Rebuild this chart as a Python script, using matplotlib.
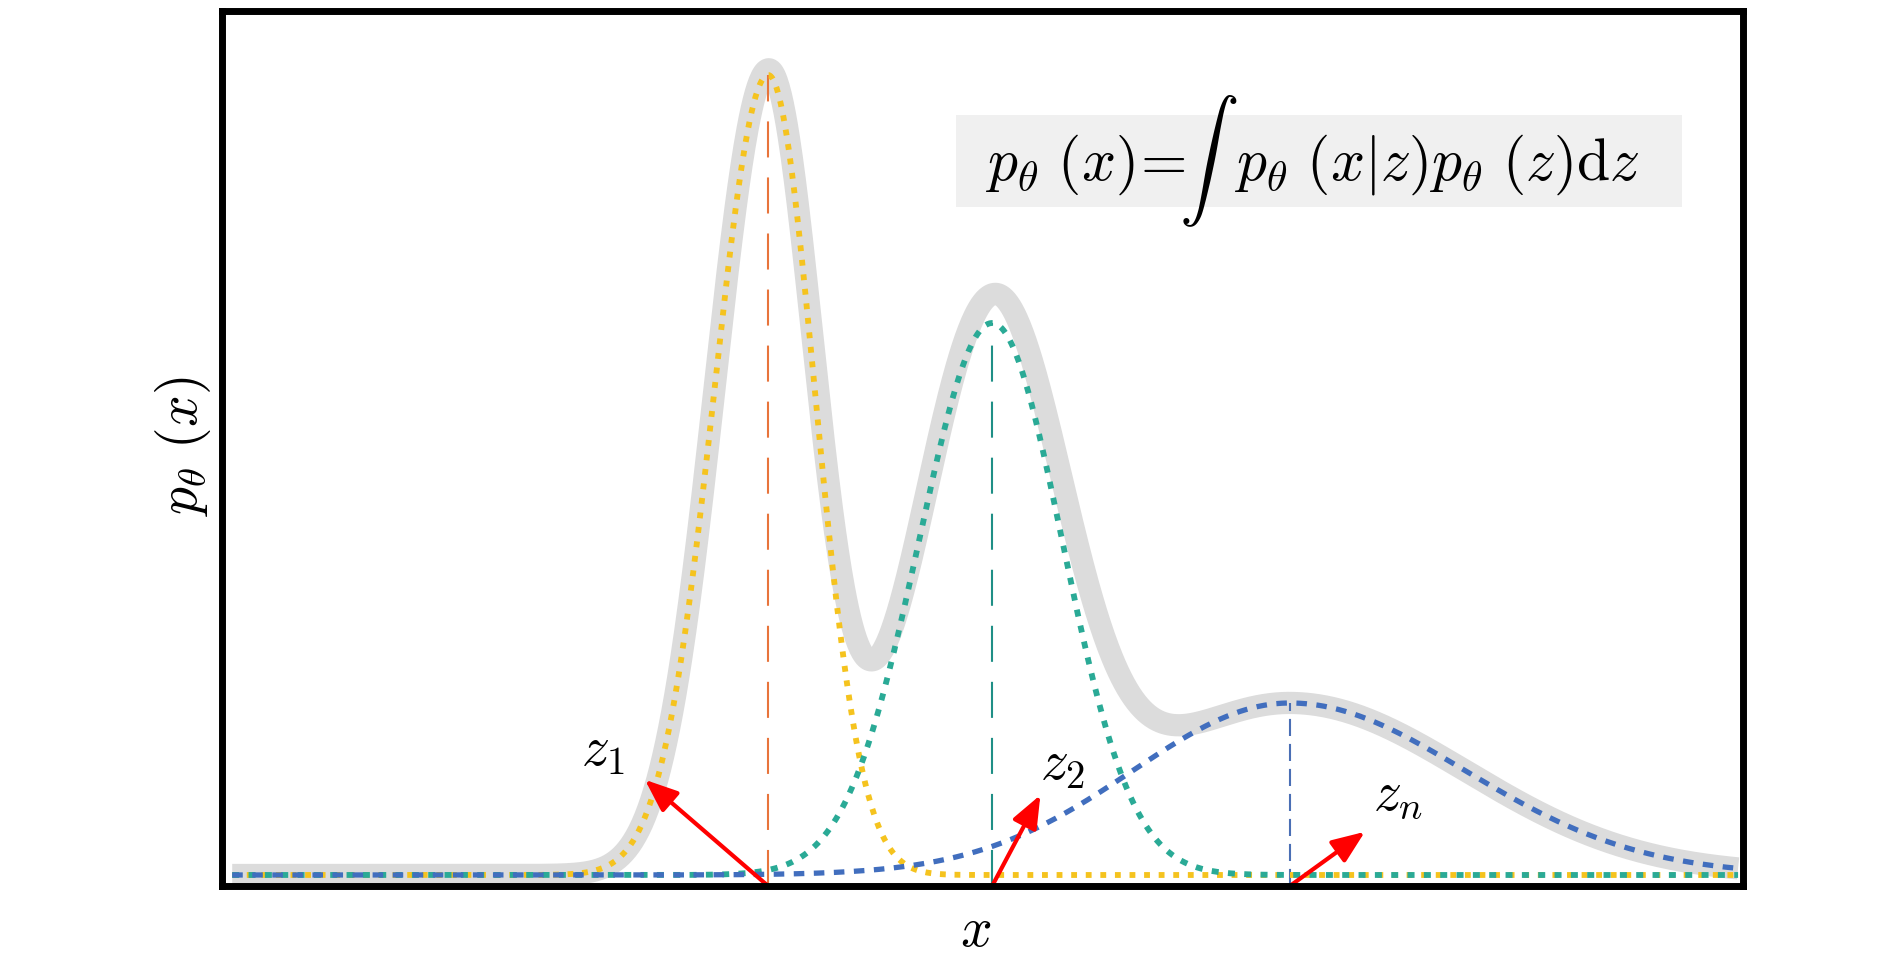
import numpy as np
import matplotlib.pyplot as plt
from matplotlib.patches import Rectangle

plt.rcParams['font.family'] = ['DejaVu Sans']
plt.rcParams['mathtext.fontset'] = 'cm'

# Mixture components
# (x in axis units 0..15, height relative to the tallest component)
comp_names = [r'$z_1$', r'$z_2$', r'$z_n$']
comp_mu = [5.385, 7.594, 10.53]
comp_amp = [1.0, 0.69, 0.215]
comp_sig_left = [0.53, 0.72, 1.55]
comp_sig_right = [0.46, 0.69, 1.73]

curve_colors = ['#f5c31e', '#2aaa96', '#416ebe']
guide_colors = ['#e8743b', '#1f8f86', '#4a6fb5']

# red arrow tips and z labels
arrow_tip_x = [4.17, 8.07, 11.27]
arrow_tip_y = [0.119, 0.10, 0.054]
label_x = [3.76, 8.29, 11.6]
label_y = [0.156, 0.1375, 0.10]

formula = r'$p_\theta\ (x)\!=\!\!\int\;\,p_\theta\ (x|z)p_\theta\ (z)\mathrm{d}z$'


def component(x, mu, amp, sl, sr):
    s = np.where(x < mu, sl, sr)
    return amp * np.exp(-0.5 * ((x - mu) / s) ** 2)


def main():
    fig = plt.figure(figsize=(18.9, 9.57), dpi=100)
    ax = fig.add_axes([0.1175, 0.0742, 0.8048, 0.9143])
    ymin, ymax = -0.01375, 1.08
    ax.set_xlim(0, 15)
    ax.set_ylim(ymin, ymax)

    x = np.linspace(0.1, 14.95, 1500)
    comps = [component(x, m, a, sl, sr) for m, a, sl, sr in
             zip(comp_mu, comp_amp, comp_sig_left, comp_sig_right)]
    total = np.sum(comps, axis=0)

    # thick grey mixture density
    ax.plot(x, total, color='#dcdcdc', lw=16, solid_capstyle='butt', zorder=1)

    # dotted components
    styles = [dict(lw=4.2, dashes=(1.0, 1.5)),
              dict(lw=4.2, dashes=(1.2, 1.6)),
              dict(lw=3.8, dashes=(2.0, 1.8))]
    for y, c, st in zip(comps, curve_colors, styles):
        ax.plot(x, y, color=c, zorder=3, **st)

    # vertical guides from each peak
    guide_dash = [(17.3, 9.6), (17.3, 9.6), (8.2, 3.8)]
    for m, a, c, d in zip(comp_mu, comp_amp, guide_colors, guide_dash):
        ax.plot([m, m], [ymin, a], color=c, lw=1.5, dashes=d, zorder=2)

    # red arrows and labels
    for m, tx, ty, lx, ly, name in zip(comp_mu, arrow_tip_x, arrow_tip_y,
                                       label_x, label_y, comp_names):
        ax.annotate('', xy=(tx, ty), xytext=(m, ymin),
                    arrowprops=dict(arrowstyle='-|>,head_length=1.0,head_width=0.4',
                                    color='red', lw=3, mutation_scale=20,
                                    shrinkA=0, shrinkB=0), zorder=5)
        ax.text(lx, ly, name, fontsize=40, ha='center', va='center')

    ax.set_xticks([])
    ax.set_yticks([])
    for sp in ax.spines.values():
        sp.set_linewidth(5)
        sp.set_color('black')
        sp.set_zorder(6)

    ax.set_xlabel(r'$x$', fontsize=40, va='center')
    ax.xaxis.set_label_coords(0.4957, -0.0514)
    ax.set_ylabel(r'$p_\theta\ (x)$', fontsize=40, va='center')
    ax.yaxis.set_label_coords(-0.0256, 0.503)

    # formula box
    fig.patches.append(Rectangle((0.5058, 0.7837), 0.3841, 0.0961,
                                 transform=fig.transFigure, facecolor='#f0f0f0',
                                 edgecolor='none', zorder=10))
    fig.text(0.6942, 0.8318, formula, fontsize=43, ha='center', va='center', zorder=11)

    fig.savefig('out.png', dpi=100, facecolor='white')
    plt.close(fig)


if __name__ == "__main__":
    main()
